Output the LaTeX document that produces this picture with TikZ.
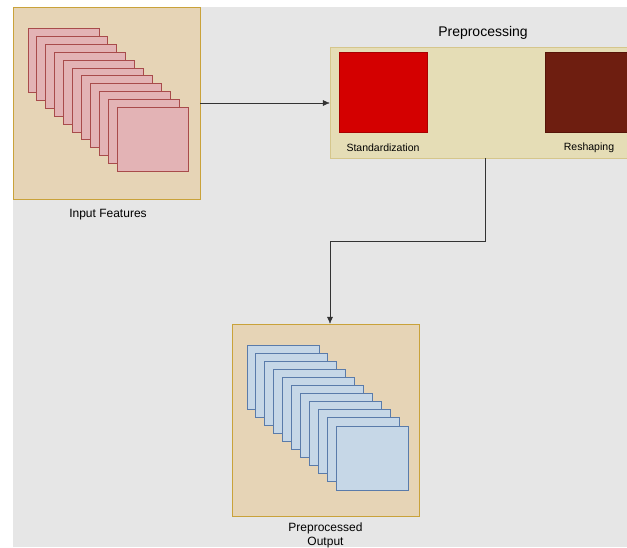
\documentclass[tikz,border=0pt]{standalone}
\usepackage{fontspec}
\setmainfont{Liberation Sans}
\usepackage{tikz}
\usetikzlibrary{arrows.meta,calc,positioning}
\definecolor{bggray}{HTML}{E6E6E6}
\definecolor{panelfill}{HTML}{E6D4B6}
\definecolor{panelline}{HTML}{C9A23A}
\definecolor{prefill}{HTML}{E5DDB6}
\definecolor{preline}{HTML}{D5C68C}
\definecolor{pinkfill}{HTML}{E3B3B5}
\definecolor{pinkline}{HTML}{A84B4B}
\definecolor{bluefill}{HTML}{C6D7E7}
\definecolor{blueline}{HTML}{5A7BAA}
\definecolor{stdred}{HTML}{D40000}
\definecolor{stdline}{HTML}{A80000}
\definecolor{shpred}{HTML}{6E1E10}
\definecolor{shpline}{HTML}{561408}
\definecolor{wire}{HTML}{333333}
\tikzset{
	-{Latex[length=7pt,width=6pt]},line width=0.9pt,
	panel/.style ={rectangle, draw=panelline, fill=panelfill, minimum width=187pt, minimum height=192pt, inner sep=0pt},
	prebox/.style ={rectangle, draw=preline, fill=prefill, minimum width=310pt, minimum height=111pt, inner sep=0pt},
	opbox/.style ={rectangle, minimum width=88pt, minimum height=80pt, inner sep=0pt},
	inlayer/.style ={rectangle, draw=pinkline, fill=pinkfill, minimum width=71pt, minimum height=64pt, inner sep=0pt, line width=0.9pt},
	outlayer/.style ={rectangle, draw=blueline, fill=bluefill, minimum width=72pt, minimum height=64pt, inner sep=0pt, line width=0.9pt},
	lbl/.style = {inner sep=0pt, font=\fontsize{12}{14}\selectfont},
	title/.style = {inner sep=0pt, font=\fontsize{14}{16}\selectfont},
	small/.style = {inner sep=0pt, font=\fontsize{10.5}{12}\selectfont},
	wires/.style = {draw=wire}
}
\begin{document}
\begin{tikzpicture}[x=1pt,y=-1pt]
    \useasboundingbox (0,0) rectangle (627,547);
    \clip (0,0) rectangle (627,547);
    \fill[bggray] (13,7) rectangle (627,547);

    % input features
    \node[panel] (inbox) at (106.5,103) {};
    \foreach \i in {0,...,10}
        \node[inlayer] (in\i) at (63.5+8.9*\i, 60.5+7.9*\i) {};
    \node[lbl] (inlabel) at (108,214.5) {Input Features};

    % preprocessing
    \node[prebox] (pre) at (485,102.5) {};
    \node[title] (pretitle) at (483,33) {Preprocessing};
    \node[opbox, fill=stdred, draw=stdline] (std) at (383,92) {};
    \node[opbox, fill=shpred, draw=shpline] (shp) at (589,92) {};
    \node[small] (stdlabel) at (383,147.5) {Standardization};
    \node[small] (shplabel) at (589,147.5) {Reshaping};

    % preprocessed output
    \node[panel] (outbox) at (325.5,420) {};
    \foreach \i in {0,...,10}
        \node[outlayer] (out\i) at (283+8.9*\i, 377+8.1*\i) {};
    \node[lbl, align=center] (outlabel) at (325.5,535) {Preprocessed\\Output};

    \coordinate (bend) at (330,241);
    \draw[wires] (inbox.east) -- (inbox.east -| pre.west);
    \draw[wires] (pre.south) |- (bend) -- (bend |- outbox.north);
\end{tikzpicture}
\end{document}
